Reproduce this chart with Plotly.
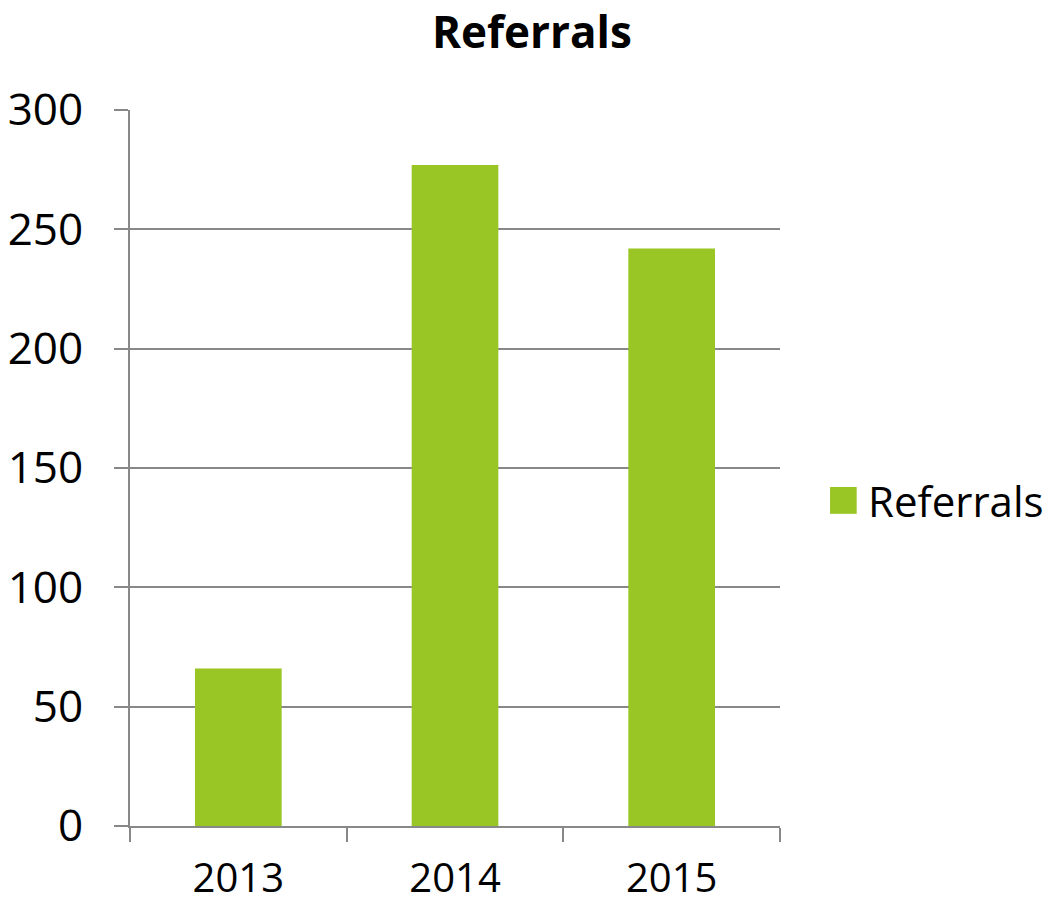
import plotly.graph_objects as go

years = ["2013", "2014", "2015"]
referrals = [66, 277, 242]
series_name = "Referrals"
chart_title = "Referrals"

bar_color = "#99C624"
axis_color = "#888888"
font_family = "Open Sans, Liberation Sans, sans-serif"

fig = go.Figure()
fig.add_trace(go.Bar(
    x=years, y=referrals, name=series_name,
    marker=dict(color=bar_color, line=dict(width=0)),
    showlegend=False,
))

# title as an annotation, sits tight to the top like the original
fig.add_annotation(text="<b>" + chart_title + "</b>", xref="paper", yref="paper",
                   x=0.618, y=1.11, xanchor="center", yanchor="middle",
                   showarrow=False, font=dict(size=44))

# legend drawn by hand so the swatch can be as large as the original
fig.add_shape(type="rect", xref="paper", yref="paper",
              x0=1.077, x1=1.118, y0=0.436, y1=0.4735,
              fillcolor=bar_color, line=dict(width=0))
fig.add_annotation(text=series_name, xref="paper", yref="paper",
                   x=1.133, y=0.455, xanchor="left", yanchor="middle",
                   showarrow=False, font=dict(size=42))

fig.update_layout(
    width=1056, height=907,
    paper_bgcolor="white", plot_bgcolor="white",
    font=dict(family=font_family, size=44, color="black"),
    margin=dict(l=122, r=284, t=102, b=89),
    bargap=0.6,
)

fig.update_xaxes(
    type="category", tickson="boundaries", automargin=False,
    showline=True, linecolor=axis_color, linewidth=2,
    ticks="outside", ticklen=14, tickwidth=2, tickcolor=axis_color,
    showgrid=False, ticklabelstandoff=16, tickfont=dict(size=40),
)
fig.update_yaxes(
    range=[0, 300], dtick=50, automargin=False,
    showline=True, linecolor=axis_color, linewidth=2,
    ticks="outside", ticklen=14, tickwidth=2, tickcolor=axis_color,
    showgrid=True, gridcolor=axis_color, gridwidth=2,
    zeroline=False, ticklabelstandoff=22,
)

fig.write_html("out.html")
